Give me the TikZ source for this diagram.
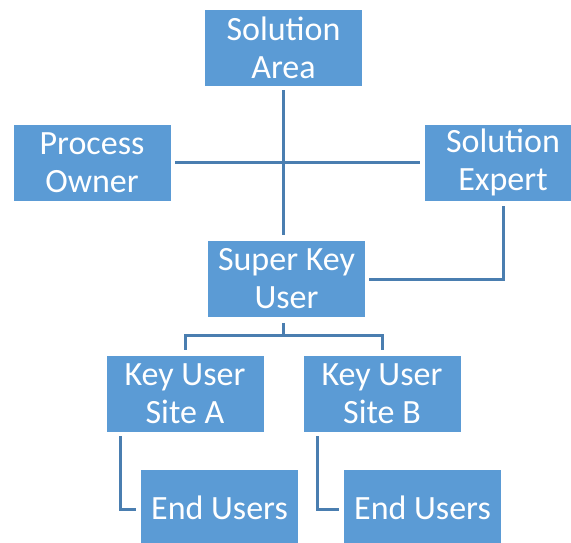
\documentclass[tikz,border=0pt]{standalone}
\usepackage{fontspec}
\setmainfont{Carlito}
\begin{document}
\begin{tikzpicture}[x=1pt,y=-1pt,
  box/.style={rectangle, fill=boxblue, draw=white, line width=0.8pt,
    minimum width=158pt, minimum height=77pt, inner sep=0pt,
    text=white, align=center,
    font=\fontsize{34}{38}\selectfont},
  conn/.style={draw=lineblue, line width=3pt}]
\definecolor{boxblue}{HTML}{5B9BD5}
\definecolor{lineblue}{HTML}{4A7EB0}
\useasboundingbox (0,0) rectangle (571,543);
\clip (0,0) rectangle (571,543);

% boxes
\node[box] (SA)  at (283.5,47.5) {Solution\\Area};
\node[box] (PO)  at (92,162.5)   {Process\\Owner};
\node[box] (SE)  at (503,162.5)  {Solution\\Expert};
\node[box] (SKU) at (286.5,279)  {Super Key\\User};
\node[box] (KA)  at (185,393.5)  {Key User\\Site A};
\node[box] (KB)  at (382,393.5)  {Key User\\Site B};
\node[box] (EA)  at (219.5,508)  {End Users};
\node[box] (EB)  at (422.5,508)  {End Users};

% junctions of the branching connectors
\coordinate (skj) at (283,335);
\coordinate (eaj) at (120,509);
\coordinate (ebj) at (317,509);

% connectors, kept a few points clear of the boxes
% (shifts act on the page: negative yshift is downwards)
\draw[conn] ([yshift=-4]SA.south) -- ([yshift=5]SA.south |- SKU.north);
\draw[conn] ([xshift=4]PO.east) -- ([xshift=-4]SE.west);
\draw[conn] ([yshift=-5]SE.south) -- (SE.south |- SKU.east) -- ([xshift=3]SKU.east);
\draw[conn] ([yshift=-5]SKU.south -| skj) -- (skj);
\draw[conn] ([yshift=5]KA.north) -- (KA.north |- skj) -- (KB.north |- skj) -- ([yshift=5]KB.north);
\draw[conn] ([yshift=-4]KA.south -| eaj) -- (eaj) -- ([xshift=-4]EA.west |- eaj);
\draw[conn] ([yshift=-4]KB.south -| ebj) -- (ebj) -- ([xshift=-4]EB.west |- ebj);
\end{tikzpicture}
\end{document}
